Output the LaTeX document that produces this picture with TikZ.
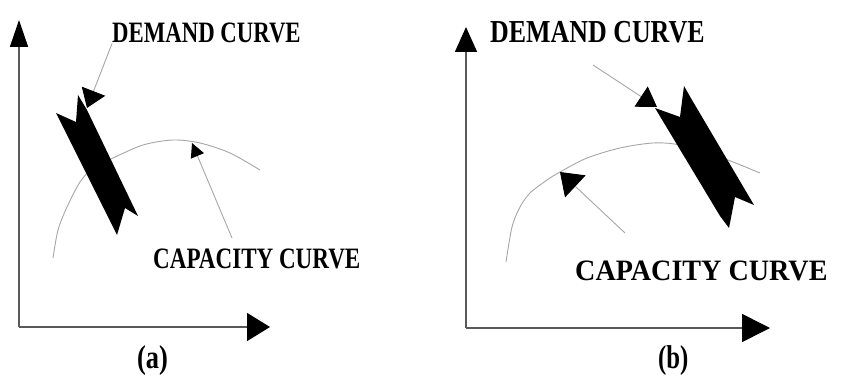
\documentclass[tikz,border=0pt]{standalone}
\usepackage{fontspec}
\setmainfont{Liberation Serif}
\usetikzlibrary{arrows.meta}

\begin{document}
\begin{tikzpicture}[x=1pt, y=-1pt,
	axis/.style={draw=gray!70!black, line width=1.6pt},
	curve/.style={draw=gray!70, line width=0.9pt},
	pointer/.style={draw=gray!70, line width=0.9pt},
	band/.style={fill=black},
	lbl/.style={inner sep=0pt, anchor=base west, font=\bfseries\fontsize{29.6}{32}\selectfont}]
	\useasboundingbox (0,0) rectangle (843,377);
	% ---------------- panel (a) ----------------
	% Axes
	\coordinate (oA) at (19,327);
	\coordinate (yA) at (19,20);
	\coordinate (xA) at (270,327);
	\draw[axis, -{Triangle[length=27pt, width=18pt, color=black]}] (oA) -- (yA);
	\draw[axis, -{Triangle[length=23pt, width=28pt, color=black]}] (oA) -- (xA);
	% Capacity curve
	\draw[curve] plot[smooth] coordinates {(53,258) (58,230) (67,207) (80,182) (93,168)
		(113,158) (143,145) (173,140) (200,143) (230,153) (260,170)};
	% Demand band
	\fill[band] (56,113) -- (76,122) -- (78,95) -- (87,110) -- (138,216)
		-- (125,208) -- (117,235) -- cycle;
	% Labels
	\node[lbl] (demA) at (112,43) {\scalebox{0.77}[1]{DEMAND CURVE}};
	\node[lbl] (capA) at (153,268) {\scalebox{0.78}[1]{CAPACITY CURVE}};
	\node[lbl, font=\bfseries\fontsize{33}{36}\selectfont] (capa) at (137,368) {\scalebox{0.8}[1]{(a)}};
	% Pointers
	\coordinate (tipDA) at (87,108);
	\coordinate (capA0) at (232,238);
	\coordinate (tipCA) at (192,143);
	\draw[pointer, -{Triangle[length=18pt, width=25pt, color=black]}] (demA.south west) -- (tipDA);
	\draw[pointer, -{Triangle[length=14pt, width=14pt, color=black]}] (capA0) -- (tipCA);
	% ---------------- panel (b) ----------------
	% Axes
	\coordinate (oB) at (466,328);
	\coordinate (yB) at (466,27);
	\coordinate (xB) at (770,328);
	\draw[axis, -{Triangle[length=25pt, width=22pt, color=black]}] (oB) -- (yB);
	\draw[axis, -{Triangle[length=28pt, width=28pt, color=black]}] (oB) -- (xB);
	% Capacity curve
	\draw[curve] plot[smooth] coordinates {(506,262) (512,227) (520,207) (530,193) (547,180)
		(560,172) (587,158) (620,148) (653,143) (680,145) (720,157) (760,173)};
	% Demand band
	\fill[band] (655,108) -- (680,117) -- (684,86) -- (692,100) -- (754,205)
		-- (735,197) -- (729,228) -- (720,216) -- cycle;
	% Labels
	\node[lbl, font=\bfseries\fontsize{32}{35}\selectfont] (demB) at (490,43) {\scalebox{0.81}[1]{DEMAND CURVE}};
	\node[lbl] (capB) at (575,280) {\scalebox{0.95}[1]{CAPACITY CURVE}};
	\node[lbl, font=\bfseries\fontsize{33}{36}\selectfont] (capb) at (658,368) {\scalebox{0.75}[1]{(b)}};
	% Pointers
	\coordinate (demB0) at (593,65);
	\coordinate (tipDB) at (657,107);
	\coordinate (capB0) at (625,233);
	\coordinate (tipCB) at (560,172);
	\draw[pointer, -{Triangle[length=19pt, width=24pt, color=black]}] (demB0) -- (tipDB);
	\draw[pointer, -{Triangle[length=21pt, width=30pt, color=black]}] (capB0) -- (tipCB);
\end{tikzpicture}
\end{document}
